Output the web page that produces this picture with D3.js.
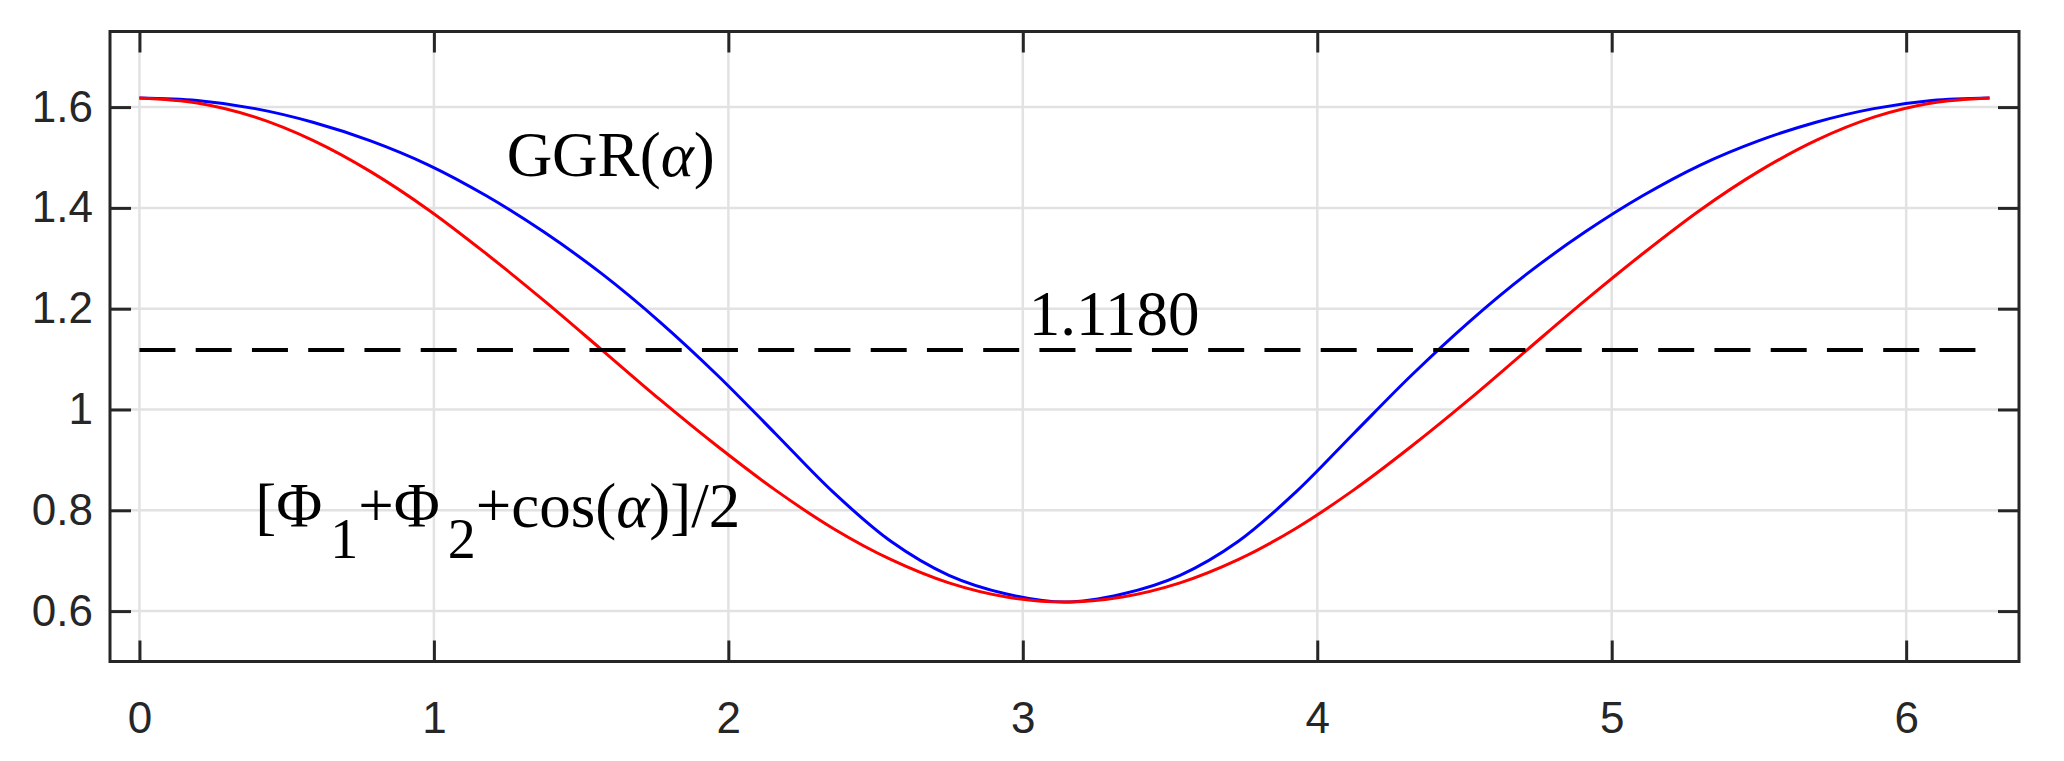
<!DOCTYPE html>
<html>
<head>
<meta charset="utf-8">
<script src="https://cdn.jsdelivr.net/npm/d3@7"></script>
<style>
body { margin: 0; background: #fff; }
.tick text { font-family: "Liberation Sans", Arial, sans-serif; font-size: 44px; fill: #262626; }
.note { font-family: "Liberation Serif", "Times New Roman", serif; font-size: 63px; fill: #000; }
</style>
</head>
<body>
<svg id="chart" width="2064" height="761"></svg>
<script>
// alpha samples (pi/16 apart)
var alphaVals = [0, 0.196, 0.393, 0.589, 0.785, 0.982, 1.178, 1.374, 1.571, 1.767, 1.963,
    2.160, 2.356, 2.553, 2.749, 2.945, 3.142, 3.338, 3.534, 3.731, 3.927, 4.123,
    4.320, 4.516, 4.712, 4.909, 5.105, 5.301, 5.498, 5.694, 5.890, 6.087, 6.283];

var ggrVals = [1.618, 1.613, 1.597, 1.570, 1.533, 1.485, 1.424, 1.352, 1.269, 1.174, 1.068,
    0.952, 0.836, 0.738, 0.671, 0.634, 0.618, 0.634, 0.671, 0.738, 0.836, 0.952,
    1.068, 1.174, 1.269, 1.352, 1.424, 1.485, 1.533, 1.570, 1.597, 1.613, 1.618];

var phiVals = [1.618, 1.608, 1.580, 1.534, 1.472, 1.396, 1.309, 1.216, 1.118, 1.020, 0.927,
    0.840, 0.764, 0.702, 0.656, 0.628, 0.618, 0.628, 0.656, 0.702, 0.764, 0.840,
    0.927, 1.020, 1.118, 1.216, 1.309, 1.396, 1.472, 1.534, 1.580, 1.608, 1.618];

var dashValue = 1.1180;
var dashRange = [0, 6.283];

var xTicks = [0, 1, 2, 3, 4, 5, 6];
var yTicks = [0.6, 0.8, 1, 1.2, 1.4, 1.6];

var LEFT = 110, RIGHT = 2019, TOP = 31.5, BOTTOM = 661.5;
var TICK_LEN = 21;

var svg = d3.select("#chart");

var x = d3.scaleLinear().domain([-0.1, 2 * Math.PI + 0.1]).range([LEFT, RIGHT]);
var y = d3.scaleLinear().domain([0.5, 1.75]).range([BOTTOM, TOP]);

// grid
var grid = svg.append("g").attr("stroke", "#e2e2e2").attr("stroke-width", 2.5);
grid.selectAll("line.gx")
    .data(xTicks)
    .enter()
    .append("line")
    .attr("class", "gx")
    .attr("x1", function(d) { return x(d); })
    .attr("x2", function(d) { return x(d); })
    .attr("y1", TOP)
    .attr("y2", BOTTOM);
grid.selectAll("line.gy")
    .data(yTicks)
    .enter()
    .append("line")
    .attr("class", "gy")
    .attr("x1", LEFT)
    .attr("x2", RIGHT)
    .attr("y1", function(d) { return y(d); })
    .attr("y2", function(d) { return y(d); });

// curves
var line = d3.line()
    .x(function(d) { return x(d[0]); })
    .y(function(d) { return y(d[1]); })
    .curve(d3.curveCatmullRom.alpha(0.5));

svg.append("path")
    .datum(d3.zip(alphaVals, ggrVals))
    .attr("d", line)
    .attr("fill", "none")
    .attr("stroke", "#0000ff")
    .attr("stroke-width", 3);

svg.append("path")
    .datum(d3.zip(alphaVals, phiVals))
    .attr("d", line)
    .attr("fill", "none")
    .attr("stroke", "#ff0000")
    .attr("stroke-width", 3);

svg.append("line")
    .attr("x1", x(dashRange[0]))
    .attr("x2", x(dashRange[1]))
    .attr("y1", y(dashValue))
    .attr("y2", y(dashValue))
    .attr("stroke", "#000")
    .attr("stroke-width", 4)
    .attr("stroke-dasharray", "36,20.25");

// axes, ticks pointing inward on all four sides
var noLabel = function() { return ""; };
var fmt = function(d) { return String(d); };

var xBottom = svg.append("g")
    .attr("transform", "translate(0," + BOTTOM + ")")
    .call(d3.axisBottom(x).tickValues(xTicks).tickFormat(fmt).tickSizeInner(-TICK_LEN).tickSizeOuter(0).tickPadding(40));
var xTop = svg.append("g")
    .attr("transform", "translate(0," + TOP + ")")
    .call(d3.axisTop(x).tickValues(xTicks).tickFormat(noLabel).tickSizeInner(-TICK_LEN).tickSizeOuter(0));
var yLeft = svg.append("g")
    .attr("transform", "translate(" + LEFT + ",0)")
    .call(d3.axisLeft(y).tickValues(yTicks).tickFormat(fmt).tickSizeInner(-TICK_LEN).tickSizeOuter(0).tickPadding(17));
var yRight = svg.append("g")
    .attr("transform", "translate(" + RIGHT + ",0)")
    .call(d3.axisRight(y).tickValues(yTicks).tickFormat(noLabel).tickSizeInner(-TICK_LEN).tickSizeOuter(0));

[xBottom, xTop, yLeft, yRight].forEach(function(g) {
    g.select(".domain").remove();
    g.selectAll(".tick line").attr("stroke", "#262626").attr("stroke-width", 3);
});

svg.append("rect")
    .attr("x", LEFT)
    .attr("y", TOP)
    .attr("width", RIGHT - LEFT)
    .attr("height", BOTTOM - TOP)
    .attr("fill", "none")
    .attr("stroke", "#262626")
    .attr("stroke-width", 3);

// annotations
var ggrText = svg.append("text")
    .attr("class", "note")
    .attr("x", x(1.247))
    .attr("y", y(1.463));
ggrText.append("tspan").text("GGR(");
ggrText.append("tspan").attr("font-style", "italic").text("\u03b1");
ggrText.append("tspan").text(")");

svg.append("text")
    .attr("class", "note")
    .attr("x", x(3.02))
    .attr("y", y(1.147))
    .text(d3.format(".4f")(dashValue));

var SUB = 31;
var phiText = svg.append("text")
    .attr("class", "note")
    .attr("font-size", 64)
    .attr("x", x(0.393))
    .attr("y", y(0.767));
phiText.append("tspan").text("[\u03a6");
phiText.append("tspan").attr("dx", 8).attr("dy", SUB).attr("font-size", 56).text("1");
phiText.append("tspan").attr("dy", -SUB).text("+\u03a6");
phiText.append("tspan").attr("dx", 8).attr("dy", SUB).attr("font-size", 56).text("2");
phiText.append("tspan").attr("dy", -SUB).text("+cos(");
phiText.append("tspan").attr("font-style", "italic").text("\u03b1");
phiText.append("tspan").text(")]/2");
</script>
</body>
</html>
